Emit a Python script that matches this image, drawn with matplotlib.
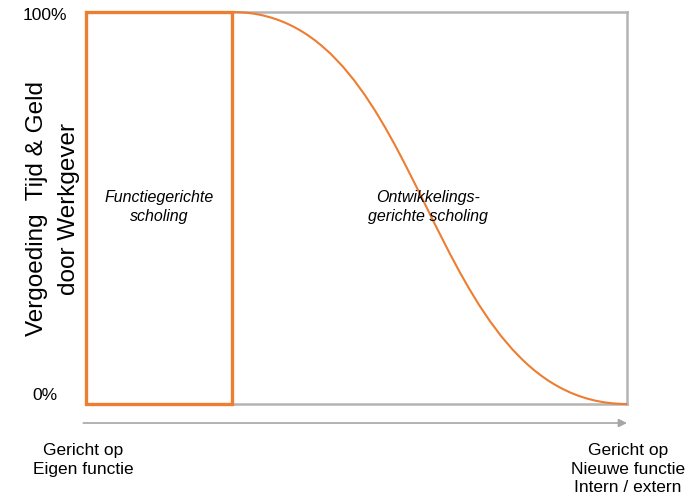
import matplotlib.pyplot as plt
from matplotlib.patches import Rectangle, PathPatch
from matplotlib.path import Path

plt.rcParams['font.family'] = ['Liberation Sans', 'DejaVu Sans']

orange = '#ED7D31'
grey = '#b4b4b4'

# functiegerichte blok (x van .. tot, y hoogte)
block_x = [0, 27.0]
block_y = [0, 100]

# ontwikkelingsgerichte curve: begin, twee stuurpunten, eind (bezier)
curve_x = [27.0, 63.6, 62.1, 100.0]
curve_y = [100.0, 100.0, 0.0, 0.0]

y_labels = ['0%', '100%']
y_title = 'Vergoeding  Tijd & Geld\ndoor Werkgever'
left_label = 'Gericht op\nEigen functie'
right_label = 'Gericht op\nNieuwe functie\nIntern / extern'
block_label = 'Functiegerichte\nscholing'
curve_label = 'Ontwikkelings-\ngerichte scholing'

W, H = 686, 495
fig = plt.figure(figsize=(W / 100, H / 100), dpi=100)
ax = fig.add_axes([86 / W, 1 - 404 / H, 541 / W, 392 / H])
ax.set_xlim(0, 100)
ax.set_ylim(0, 100)
ax.set_xticks([])
ax.set_yticks([])
for s in ax.spines.values():
    s.set_color(grey)
    s.set_linewidth(1.8)

ax.add_patch(Rectangle((block_x[0], block_y[0]), block_x[1] - block_x[0],
                       block_y[1] - block_y[0], fill=False, edgecolor=orange,
                       linewidth=2.4, clip_on=False, zorder=3))
bez = Path(list(zip(curve_x, curve_y)),
           [Path.MOVETO, Path.CURVE4, Path.CURVE4, Path.CURVE4])
ax.add_patch(PathPatch(bez, fill=False, edgecolor=orange, linewidth=1.5,
                       clip_on=False, zorder=3))

ax.text(13.5, 50.3, block_label, style='italic', fontsize=11.5, ha='center',
        va='center', linespacing=1.3)
ax.text(63.2, 50.3, curve_label, style='italic', fontsize=11.5, ha='center',
        va='center', linespacing=1.3)

# y "ticks"
fig.text(67 / W, 1 - 16 / H, y_labels[1], fontsize=12.5, ha='right', va='center')
fig.text(58 / W, 1 - 396 / H, y_labels[0], fontsize=12.5, ha='right', va='center')

fig.text(53 / W, 1 - 209 / H, y_title, fontsize=17.5, rotation=90, ha='center',
         va='center', multialignment='center', linespacing=1.6)

# pijl onder de as
ax.annotate('', xy=(1.0, -0.0485), xytext=(-0.005, -0.0485),
            xycoords='axes fraction', textcoords='axes fraction',
            arrowprops=dict(arrowstyle='-|>', color='#a6a6a6', lw=1.2,
                            mutation_scale=12, shrinkA=0, shrinkB=0),
            annotation_clip=False)

fig.text(83 / W, 1 - 443 / H, left_label, fontsize=12.5, ha='center', va='top',
         multialignment='center', linespacing=1.3)
fig.text(628 / W, 1 - 443 / H, right_label, fontsize=12.5, ha='center', va='top',
         multialignment='center', linespacing=1.3)

fig.savefig('out.png', dpi=100)
